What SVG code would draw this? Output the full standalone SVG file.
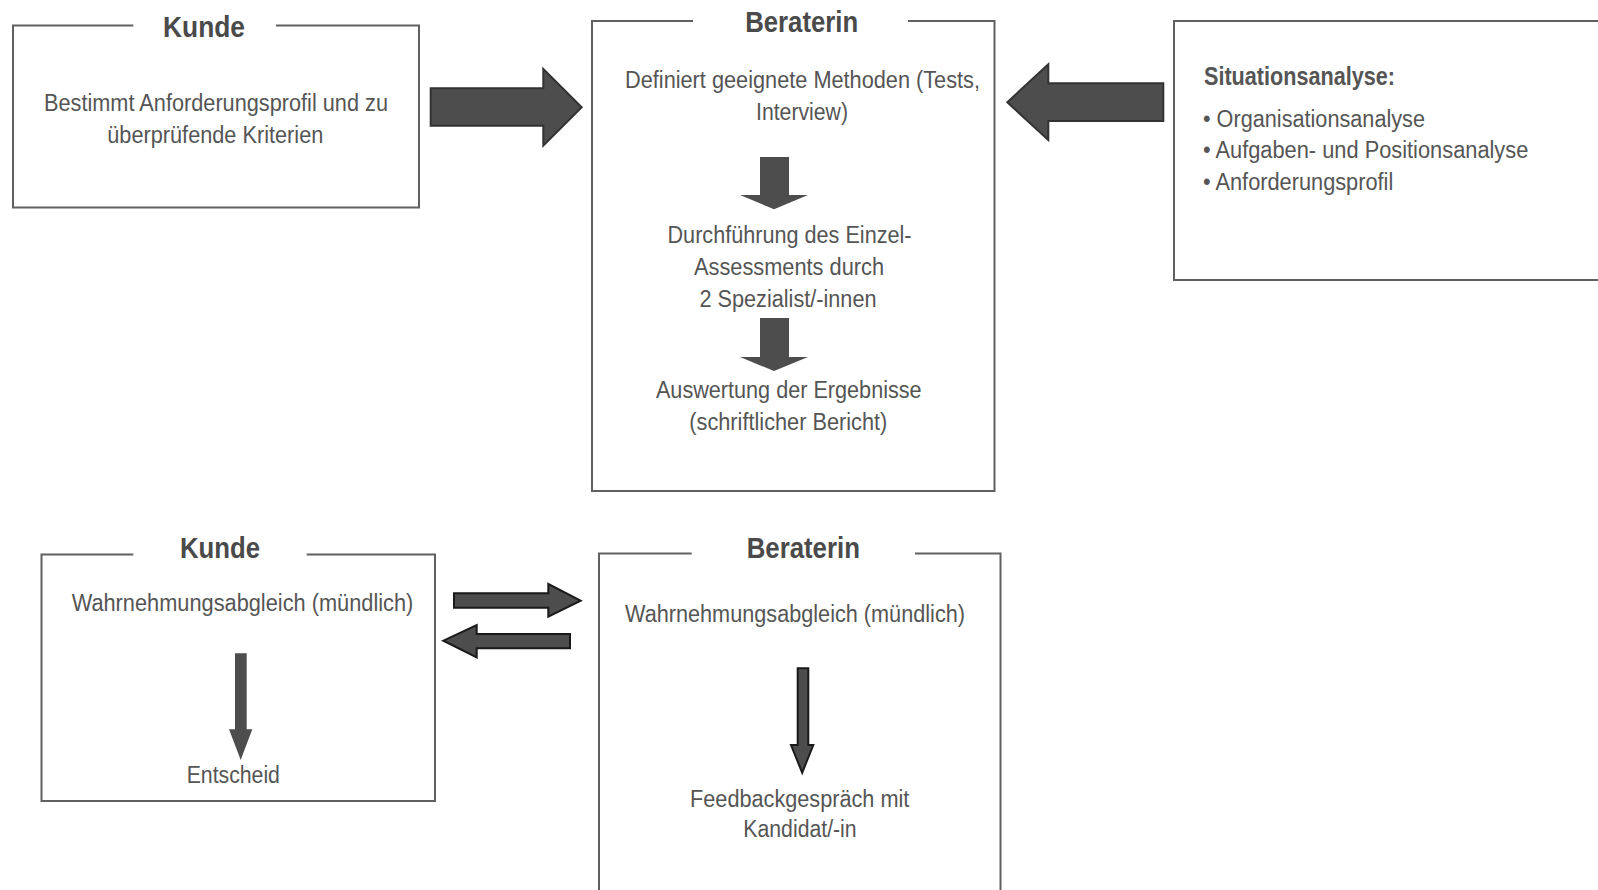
<svg xmlns="http://www.w3.org/2000/svg" width="1598" height="890" viewBox="0 0 1598 890">
<style>
.frame{fill:none;stroke:#606060;stroke-width:2}
.title{font-family:"Liberation Sans",Arial,sans-serif;font-weight:bold;font-size:30px;fill:#4a4a4a;text-anchor:middle}
.body{font-family:"Liberation Sans",Arial,sans-serif;font-size:23.3px;fill:#555555;text-anchor:middle}
.left{text-anchor:start}
.sub{font-family:"Liberation Sans",Arial,sans-serif;font-weight:bold;font-size:25.6px;fill:#555555}
.bigarrow{fill:#4d4d4d;stroke:#333333;stroke-width:2;stroke-linejoin:miter}
.flat{fill:#4d4d4d;stroke:none}
.outlined{fill:#4d4d4d;stroke:#1a1a1a;stroke-width:2}
</style>
<rect width="1598" height="890" fill="#ffffff"/>

<g id="kunde-top">
<path class="frame" d="M133.3,25.5 H13 V207.5 H419 V25.5 H276"/>
<text class="title" x="204" y="36.7" textLength="82" lengthAdjust="spacingAndGlyphs">Kunde</text>
<text class="body" x="216" y="111" textLength="344" lengthAdjust="spacingAndGlyphs">Bestimmt Anforderungsprofil und zu</text>
<text class="body" x="215.3" y="142.7" textLength="216" lengthAdjust="spacingAndGlyphs">überprüfende Kriterien</text>
</g>

<g id="beraterin-top">
<path class="frame" d="M693,21 H592 V491 H994.5 V21 H908"/>
<text class="title" x="801.7" y="31.7" textLength="113" lengthAdjust="spacingAndGlyphs">Beraterin</text>
<text class="body" x="802.5" y="88.3" textLength="355" lengthAdjust="spacingAndGlyphs">Definiert geeignete Methoden (Tests,</text>
<text class="body" x="802" y="120" textLength="92" lengthAdjust="spacingAndGlyphs">Interview)</text>
<text class="body" x="789.5" y="243" textLength="244" lengthAdjust="spacingAndGlyphs">Durchführung des Einzel-</text>
<text class="body" x="789" y="275" textLength="190" lengthAdjust="spacingAndGlyphs">Assessments durch</text>
<text class="body" x="788" y="306.7" textLength="177" lengthAdjust="spacingAndGlyphs">2 Spezialist/-innen</text>
<text class="body" x="788.8" y="398.3" textLength="265.7" lengthAdjust="spacingAndGlyphs">Auswertung der Ergebnisse</text>
<text class="body" x="788.3" y="429.5" textLength="198" lengthAdjust="spacingAndGlyphs">(schriftlicher Bericht)</text>
</g>

<g id="situationsanalyse">
<path class="frame" d="M1602,21 H1174 V280 H1602"/>
<text class="sub" x="1204" y="85" textLength="191" lengthAdjust="spacingAndGlyphs">Situationsanalyse:</text>
<text class="body left" x="1203" y="126.7" textLength="222" lengthAdjust="spacingAndGlyphs">• Organisationsanalyse</text>
<text class="body left" x="1203" y="158.3" textLength="325.3" lengthAdjust="spacingAndGlyphs">• Aufgaben- und Positionsanalyse</text>
<text class="body left" x="1203" y="190" textLength="190.3" lengthAdjust="spacingAndGlyphs">• Anforderungsprofil</text>
</g>

<g id="kunde-bottom">
<path class="frame" d="M133.3,554.5 H41.5 V801 H435 V554.5 H306.7"/>
<text class="title" x="220" y="558.3" textLength="80" lengthAdjust="spacingAndGlyphs">Kunde</text>
<text class="body" x="242.5" y="611" textLength="341.7" lengthAdjust="spacingAndGlyphs">Wahrnehmungsabgleich (mündlich)</text>
<text class="body" x="233.3" y="783.3" textLength="93.3" lengthAdjust="spacingAndGlyphs">Entscheid</text>
</g>

<g id="beraterin-bottom">
<path class="frame" d="M691.7,553.5 H599 V896 M1000.5,896 V553.5 H915"/>
<text class="title" x="803.3" y="558.3" textLength="113.3" lengthAdjust="spacingAndGlyphs">Beraterin</text>
<text class="body" x="795" y="621.7" textLength="340" lengthAdjust="spacingAndGlyphs">Wahrnehmungsabgleich (mündlich)</text>
<text class="body" x="799.7" y="806.7" textLength="219.3" lengthAdjust="spacingAndGlyphs">Feedbackgespräch mit</text>
<text class="body" x="800" y="837.3" textLength="113.3" lengthAdjust="spacingAndGlyphs">Kandidat/-in</text>
</g>

<g id="connectors">
<polygon class="bigarrow" points="430.7,88.3 543.3,88.3 543.3,69 581.7,107.3 543.3,145.7 543.3,125.7 430.7,125.7"/>
<polygon class="bigarrow" points="1163.3,83.3 1048.3,83.3 1048.3,64.3 1007.3,102.3 1048.3,140 1048.3,121 1163.3,121"/>
<polygon class="flat" points="760,157 789,157 789,195 808,195 774,209.3 740,195 760,195"/>
<polygon class="flat" points="760,318 789,318 789,357 808,357 774,371 740,357 760,357"/>
<polygon class="flat" points="235,653.3 246.7,653.3 246.7,729.3 252.3,729.3 240.7,760 229,729.3 235,729.3"/>
<polygon class="outlined" stroke-width="1.5" points="797.7,668.3 808.3,668.3 808.3,745 813.3,745 802.2,772.7 791,745 797.7,745"/>
<polygon class="outlined" points="454,593.3 548.3,593.3 548.3,584 580.7,600.7 548.3,616.7 548.3,607.7 454,607.7"/>
<polygon class="outlined" points="570,634 476.7,634 476.7,625 443.3,640.7 476.7,657.3 476.7,648.3 570,648.3"/>
</g>
</svg>
